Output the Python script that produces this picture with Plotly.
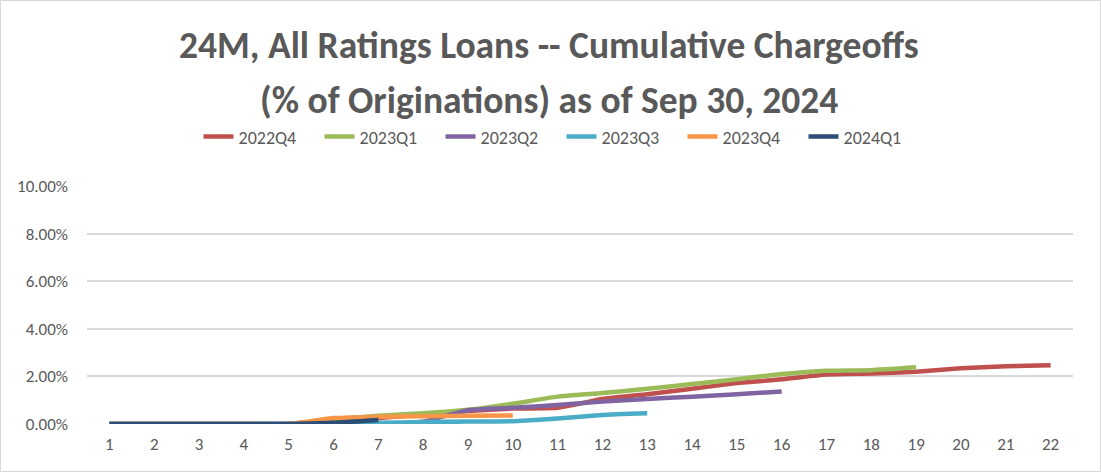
import plotly.graph_objects as go

months = list(range(1, 23))
tick_labels = [str(m) for m in months]

series_names = ["2022Q4", "2023Q1", "2023Q2", "2023Q3", "2023Q4", "2024Q1"]
colors = ["#C0504D", "#9BBB59", "#8064A2", "#4BACC6", "#F79646", "#2C4D75"]

v_2022Q4 = [0.0, 0.0, 0.0, 0.0, 0.0, 0.10, 0.25, 0.40, 0.55, 0.65, 0.68, 1.05, 1.25, 1.48, 1.72, 1.88, 2.08, 2.12, 2.20, 2.34, 2.43, 2.47]
v_2023Q1 = [0.0, 0.0, 0.0, 0.0, 0.0, 0.20, 0.35, 0.45, 0.60, 0.85, 1.15, 1.30, 1.48, 1.68, 1.88, 2.10, 2.24, 2.26, 2.38]
v_2023Q2 = [0.0, 0.0, 0.0, 0.0, 0.0, 0.0, 0.0, 0.10, 0.58, 0.68, 0.80, 0.94, 1.05, 1.15, 1.25, 1.37]
v_2023Q3 = [0.0, 0.0, 0.0, 0.0, 0.0, 0.03, 0.05, 0.08, 0.10, 0.12, 0.23, 0.38, 0.45]
v_2023Q4 = [0.0, 0.0, 0.0, 0.0, 0.0, 0.25, 0.30, 0.33, 0.35, 0.36]
v_2024Q1 = [0.0, 0.0, 0.0, 0.0, 0.0, 0.05, 0.17]

series_values = [v_2022Q4, v_2023Q1, v_2023Q2, v_2023Q3, v_2023Q4, v_2024Q1]

y_ticks = [0, 2, 4, 6, 8, 10]
y_tick_labels = ["0.00%", "2.00%", "4.00%", "6.00%", "8.00%", "10.00%"]

title_lines = ["24M, All Ratings Loans -- Cumulative Chargeoffs",
               "(% of Originations) as of Sep 30, 2024"]

FONT = "Carlito, Calibri, Lato, sans-serif"
GRAY = "#595959"

fig = go.Figure()
for name, vals, col in zip(series_names, series_values, colors):
    fig.add_trace(go.Scatter(
        x=months[:len(vals)], y=vals, name=name, mode="lines",
        line=dict(color=col, width=4.5, shape="spline", smoothing=0.4),
    ))

fig.update_layout(
    width=1101, height=472,
    margin=dict(l=87, r=28, t=186, b=48),
    paper_bgcolor="white", plot_bgcolor="white",
    legend=dict(
        orientation="h", x=0.51, xref="container", xanchor="center",
        y=0.71, yref="container", yanchor="middle",
        font=dict(family=FONT, size=18, color=GRAY),
        itemwidth=30, entrywidth=76, entrywidthmode="pixels",
        bgcolor="rgba(0,0,0,0)",
    ),
    showlegend=True,
    xaxis=dict(
        range=[0.5, 22.5], tickmode="array", tickvals=months, ticktext=tick_labels,
        showgrid=False, zeroline=False, showline=False, ticks="",
        ticklabelstandoff=8, automargin=False,
        tickfont=dict(family=FONT, size=17, color=GRAY),
    ),
    yaxis=dict(
        range=[0, 10], tickmode="array", tickvals=y_ticks, ticktext=y_tick_labels,
        showgrid=True, gridcolor="#D9D9D9", gridwidth=2, zeroline=False,
        showline=False, ticks="", ticklabelstandoff=18, automargin=False,
        tickfont=dict(family=FONT, size=17, color=GRAY),
    ),
)

for i, (txt, ypx) in enumerate(zip(title_lines, [45, 100])):
    fig.add_annotation(
        text=txt, xref="paper", yref="paper",
        x=(549 - 87) / 986, y=(424 - ypx) / 238,
        xanchor="center", yanchor="middle", showarrow=False,
        font=dict(family=FONT, size=37.5, color=GRAY, weight="bold"),
    )

fig.add_shape(type="rect", xref="paper", yref="paper",
              x0=(0.5 - 87) / 986, x1=(1100.5 - 87) / 986,
              y0=(424 - 471.5) / 238, y1=(424 - 0.5) / 238,
              line=dict(color="#D9D9D9", width=1), layer="below")

fig.write_html("out.html")
